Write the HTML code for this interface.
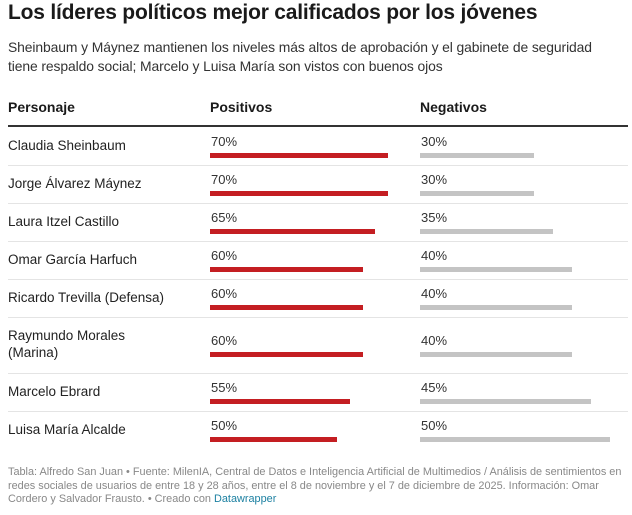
<!DOCTYPE html>
<html><head><meta charset="utf-8">
<style>
body{margin:0;background:#fff;font-family:"Liberation Sans",sans-serif;color:#1a1a1a;}
#root{position:relative;width:632px;height:515px;overflow:hidden;}
.abs{position:absolute;white-space:nowrap;}
h1{position:absolute;left:8px;top:1px;margin:0;font-size:21px;font-weight:bold;letter-spacing:-0.2px;}
.sub{left:8px;top:38px;font-size:13.9px;line-height:19px;color:#333;white-space:normal;width:600px;letter-spacing:-0.1px;}
.hd{font-size:14px;font-weight:bold;top:99px;}
.name{font-size:13.5px;color:#222;line-height:17px;}
.val{font-size:13px;color:#333;}
.foot{left:8px;top:466px;font-size:10.9px;line-height:13.5px;color:#888;white-space:normal;width:622px;}
.foot a{color:#1d81a2;text-decoration:none;}
</style></head><body>
<div id="root">
<h1>Los líderes políticos mejor calificados por los jóvenes</h1>
<div class="abs sub">Sheinbaum y Máynez mantienen los niveles más altos de aprobación y el gabinete de seguridad tiene respaldo social; Marcelo y Luisa María son vistos con buenos ojos</div>
<div class="abs hd" style="left:8px">Personaje</div>
<div class="abs hd" style="left:210px">Positivos</div>
<div class="abs hd" style="left:420px">Negativos</div>
<div class="abs" style="left:8px;top:125px;width:620px;height:2px;background:#333"></div>
<div class="abs foot">Tabla: Alfredo San Juan • Fuente: MilenIA, Central de Datos e Inteligencia Artificial de Multimedios / Análisis de sentimientos en redes sociales de usuarios de entre 18 y 28 años, entre el 8 de noviembre y el 7 de diciembre de 2025. Información: Omar Cordero y Salvador Frausto. • Creado con <a>Datawrapper</a></div>
</div>
<script>
const names=["Claudia Sheinbaum","Jorge Álvarez Máynez","Laura Itzel Castillo","Omar García Harfuch","Ricardo Trevilla (Defensa)","Raymundo Morales<br>(Marina)","Marcelo Ebrard","Luisa María Alcalde"];
const positivos=[70,70,65,60,60,60,55,50];
const negativos=[30,30,35,40,40,40,45,50];
const root=document.getElementById('root');
const posX=210,negX=420;
function posW(v){return v*178/70;}
function negW(v){return v*190/50;}
let rowY=127;
names.forEach((n,i)=>{
  const h=n.indexOf('<br>')>=0?56:38;
  const nm=document.createElement('div');nm.className='abs name';
  
  
  nm.style.left='8px';nm.style.top=(rowY+(h-(h>38?34:17))/2-1)+'px';nm.innerHTML=n;root.appendChild(nm);
  const labTop=rowY+(h-38)/2+7;
  [[posX,positivos[i],posW,'#c41e22','positive'],[negX,negativos[i],negW,'#c4c4c4','negative']].forEach(c=>{
    const l=document.createElement('div');l.className='abs val';
    
    
    l.style.left=(c[0]+1)+'px';l.style.top=labTop+'px';l.textContent=c[1]+'%';root.appendChild(l);
    const b=document.createElement('div');b.className='abs';
    
    
    b.style.left=c[0]+'px';b.style.top=(labTop+19)+'px';b.style.height='5px';b.style.width=c[2](c[1])+'px';b.style.background=c[3];root.appendChild(b);
  });
  rowY+=h;
  if(i<names.length-1){const s=document.createElement('div');s.className='abs';
    
    
    s.style.left='8px';s.style.top=rowY+'px';s.style.width='620px';s.style.height='1px';s.style.background='#e4e4e4';root.appendChild(s);}
});
</script>
</body></html>
